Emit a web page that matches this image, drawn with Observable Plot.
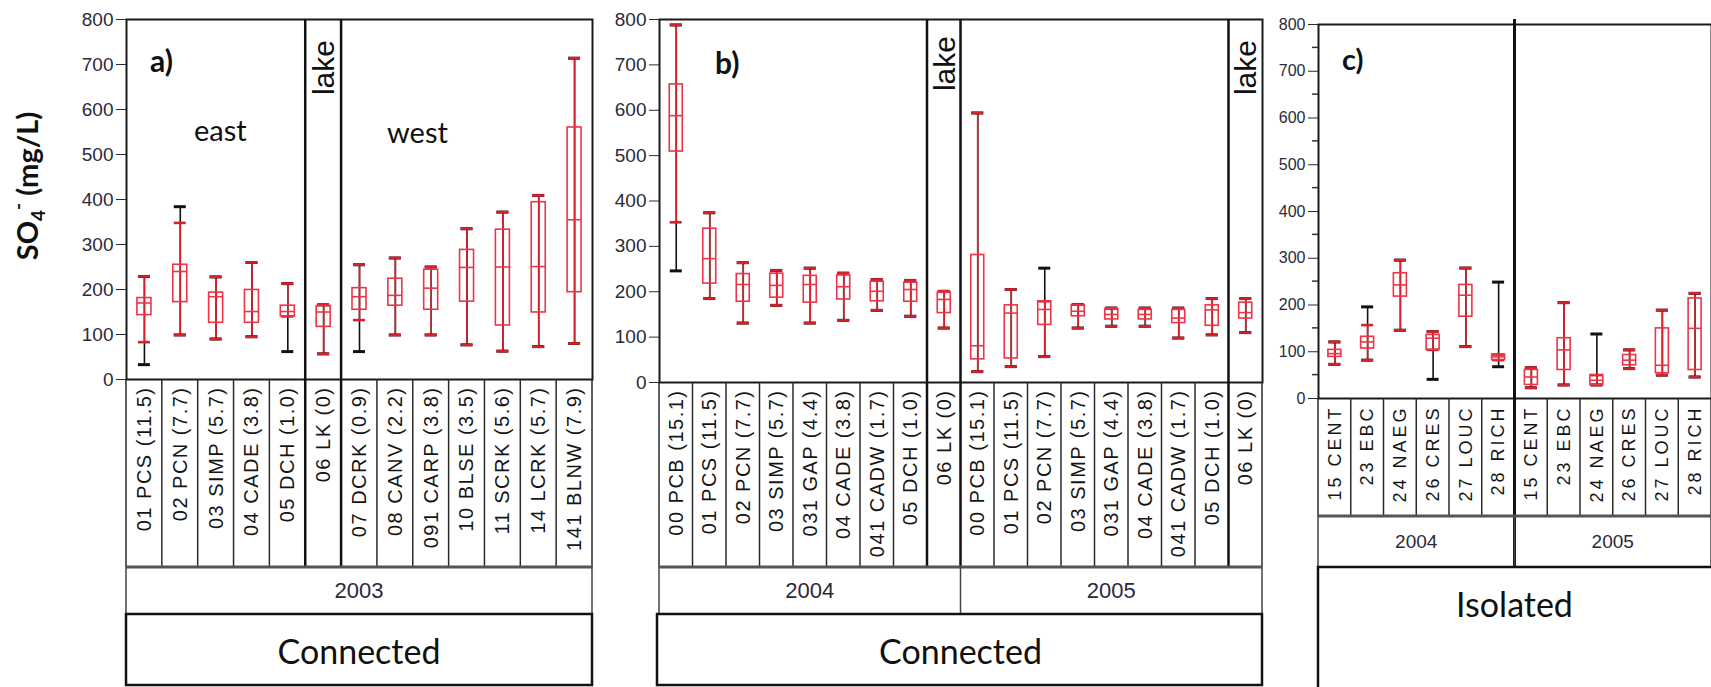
<!DOCTYPE html>
<html><head><meta charset="utf-8">
<script src="https://cdn.jsdelivr.net/npm/d3@7"></script>
<script src="https://cdn.jsdelivr.net/npm/@observablehq/plot@0.6"></script>
<style>
html,body{margin:0;padding:0;background:#fff;}
#root{position:relative;width:1711px;height:687px;overflow:hidden;background:#fff;}
.panel{position:absolute;top:0;}
</style></head><body><div id="root"></div>
<script>
// ---------- Panel a (Connected, 2003) ----------
const sitesA = ["01 PCS (11.5)","02 PCN (7.7)","03 SIMP (5.7)","04 CADE (3.8)","05 DCH (1.0)","06 LK (0)","07 DCRK (0.9)","08 CANV (2.2)","091 CARP (3.8)","10 BLSE (3.5)","11 SCRK (5.6)","14 LCRK (5.7)","141 BLNW (7.9)"];
const yearsA = ["2003","2003","2003","2003","2003","2003","2003","2003","2003","2003","2003","2003","2003"];
const blackLoA = [33, 99, 90, 95, 62, 57, 62, 99, 99, 77, 63, 73, 80];
const blackHiA = [229, 384, 228, 260, 213, 166, 255, 270, 250, 335, 372, 409, 714];
const redLoA   = [83, 99, 90, 95, 140, 57, 132, 99, 99, 77, 63, 73, 80];
const redHiA   = [229, 348, 228, 260, 213, 166, 255, 270, 250, 335, 372, 409, 714];
const q1A      = [143, 172, 126, 126, 140, 117, 155, 164, 155, 173, 120, 149, 194];
const medA     = [170, 240, 184, 151, 151, 150, 184, 187, 203, 249, 250, 251, 355];
const q3A      = [181, 255, 193, 199, 164, 163, 203, 224, 244, 288, 333, 394, 560];

// ---------- Panel b (Connected, 2004 & 2005) ----------
const sitesB = ["00 PCB (15.1)","01 PCS (11.5)","02 PCN (7.7)","03 SIMP (5.7)","031 GAP (4.4)","04 CADE (3.8)","041 CADW (1.7)","05 DCH (1.0)","06 LK (0)",
                "00 PCB (15.1)","01 PCS (11.5)","02 PCN (7.7)","03 SIMP (5.7)","031 GAP (4.4)","04 CADE (3.8)","041 CADW (1.7)","05 DCH (1.0)","06 LK (0)"];
const yearsB = ["2004","2004","2004","2004","2004","2004","2004","2004","2004","2005","2005","2005","2005","2005","2005","2005","2005","2005"];
const blackLoB = [246, 185, 131, 170, 131, 137, 159, 146, 120,  24,  35,  57, 120, 124, 124,  98, 105, 110];
const blackHiB = [788, 374, 264, 247, 252, 241, 227, 225, 201, 594, 205, 252, 172, 164, 164, 164, 185, 185];
const redLoB   = [353, 185, 131, 170, 131, 137, 159, 146, 120,  24,  35,  57, 120, 124, 124,  98, 105, 110];
const redHiB   = [788, 374, 264, 247, 252, 241, 227, 225, 201, 594, 205, 179, 172, 164, 164, 164, 185, 185];
const q1B      = [509, 218, 178, 187, 176, 183, 179, 178, 153,  51,  53, 127, 146, 139, 139, 131, 125, 141];
const medB     = [588, 273, 216, 214, 216, 211, 201, 205, 183,  81, 153, 161, 157, 150, 150, 142, 160, 154];
const q3B      = [657, 339, 239, 240, 235, 236, 222, 220, 198, 281, 170, 179, 170, 162, 160, 160, 170, 176];

// ---------- Panel c (Isolated, 2004 & 2005) ----------
const sitesC = ["15 CENT","23 EBC","24 NAEG","26 CRES","27 LOUC","28 RICH","15 CENT","23 EBC","24 NAEG","26 CRES","27 LOUC","28 RICH"];
const yearsC = ["2004","2004","2004","2004","2004","2004","2005","2005","2005","2005","2005","2005"];
const blackLoC = [73,  82, 146,  41, 111,  68, 23,  29,  29,  64,  50,  46];
const blackHiC = [121, 196, 296, 143, 279, 249, 66, 205, 138, 104, 189, 225];
const redLoC   = [73,  82, 146, 104, 111,  82, 23,  29,  29,  64,  50,  46];
const redHiC   = [121, 157, 296, 143, 279,  94, 66, 205,  50, 104, 189, 225];
const q1C      = [89, 107, 218, 104, 175,  82, 29,  61,  29,  71,  54,  61];
const medC     = [96, 121, 243, 129, 221,  89, 46, 104,  39,  82,  71, 150];
const q3C      = [104, 132, 268, 136, 243,  94, 61, 129,  50,  93, 150, 214];

const yMinorC = [50,150,250,350,450,550,650,750];

const RED_W = "#d8202c";
const RED_B = "#ee3446";
const root = document.getElementById("root");

function buildPanel(cfg) {
  const n = cfg.sites.length;
  const keys = cfg.sites.map((s, i) => cfg.years[i] + "|" + s);
  const rows = keys.map((k, i) => ({
    k, bLo: cfg.bLo[i], bHi: cfg.bHi[i], rLo: cfg.rLo[i], rHi: cfg.rHi[i],
    q1: cfg.q1[i], med: cfg.med[i], q3: cfg.q3[i]
  }));
  const bw = (cfg.width - cfg.marginLeft - cfg.marginRight) / n;
  const boxInset = (bw - cfg.boxW) / 2;
  const capInset = (bw - cfg.capW) / 2;
  const plot = Plot.plot({
    width: cfg.width, height: 687,
    marginLeft: cfg.marginLeft, marginRight: cfg.marginRight,
    marginTop: cfg.marginTop, marginBottom: cfg.marginBottom,
    style: {background: "transparent", fontFamily: "'Liberation Sans', Arial, sans-serif",
            fontSize: cfg.tickFont + "px", color: "#2a2a3a", overflow: "visible", maxWidth: "none"},
    x: {type: "band", domain: keys, padding: 0, round: false, tickSize: 0, tickPadding: 7,
        tickRotate: -90, tickFormat: k => k.split("|")[1], label: null},
    y: {domain: [0, 800], ticks: 8, tickSize: 10, tickPadding: 3, label: null, tickFormat: d => String(d)},
    marks: [
      Plot.frame({stroke: "#1a1a1a", strokeWidth: 2}),
      Plot.ruleX(rows, {x: "k", y1: "bLo", y2: "bHi", stroke: "#111", strokeWidth: 1.6}),
      Plot.ruleX(rows, {x: "k", y1: "rLo", y2: "rHi", stroke: RED_W, strokeWidth: 1.6}),
      Plot.tickY(rows, {x: "k", y: "bLo", stroke: "#111", strokeWidth: 3, insetLeft: capInset, insetRight: capInset}),
      Plot.tickY(rows, {x: "k", y: "bHi", stroke: "#111", strokeWidth: 3, insetLeft: capInset, insetRight: capInset}),
      Plot.tickY(rows, {x: "k", y: "rLo", stroke: RED_W, strokeWidth: 2.6, insetLeft: capInset, insetRight: capInset}),
      Plot.tickY(rows, {x: "k", y: "rHi", stroke: RED_W, strokeWidth: 2.6, insetLeft: capInset, insetRight: capInset}),
      Plot.barY(rows, {x: "k", y1: "q1", y2: "q3", fill: "none", stroke: RED_B, strokeWidth: 1.6, insetLeft: boxInset, insetRight: boxInset}),
      Plot.tickY(rows, {x: "k", y: "med", stroke: RED_B, strokeWidth: 1.6, insetLeft: boxInset, insetRight: boxInset})
    ]
  });
  plot.classList.add("panel");
  plot.style.left = cfg.left + "px";
  root.appendChild(plot);

  const svg = d3.select(plot.tagName.toLowerCase() === "svg" ? plot : plot.querySelector("svg"));
  svg.selectAll('[aria-label^="x-axis"] text')
    .attr("font-size", cfg.labelFont).attr("letter-spacing", cfg.labelSpacing + "px").attr("fill", "#151515")
    .style("font-size", cfg.labelFont + "px");
  svg.selectAll('[aria-label^="y-axis"] text')
    .attr("font-size", cfg.tickFont).style("font-size", cfg.tickFont + "px");

  return {
    svg,
    edge: i => cfg.marginLeft + i * bw,
    top: cfg.marginTop,
    zero: 687 - cfg.marginBottom,
    y: v => (687 - cfg.marginBottom) - v / 800 * (687 - cfg.marginBottom - cfg.marginTop),
    n
  };
}

function line(svg, x1, y1, x2, y2, stroke, w) {
  svg.append("line").attr("x1", x1).attr("y1", y1).attr("x2", x2).attr("y2", y2)
    .attr("stroke", stroke).attr("stroke-width", w);
}
function text(svg, x, y, s, o) {
  const t = svg.append("text").attr("x", x).attr("y", y).text(s)
    .attr("font-family", o.family || "Lato, 'Open Sans', sans-serif")
    .attr("font-size", o.size).attr("fill", o.fill || "#111")
    .attr("text-anchor", o.anchor || "start");
  if (o.weight) t.attr("font-weight", o.weight);
  if (o.rotate) t.attr("transform", `rotate(${o.rotate},${x},${y})`);
  return t;
}
function labelTable(c, rowBottom, yearBottom, boldEdges, yearEdges, yearLabels, yearFont) {
  const {svg, edge, n, zero} = c;
  for (let i = 0; i <= n; i++) {
    if (boldEdges.includes(i)) continue;
    line(svg, edge(i), zero, edge(i), rowBottom, "#2a2a2a", 1.5);
  }
  line(svg, edge(0), rowBottom, edge(n), rowBottom, "#555", 3);
  for (const i of yearEdges) line(svg, edge(i), rowBottom, edge(i), yearBottom, "#444", 1.5);
  for (let j = 0; j < yearLabels.length; j++) {
    const xm = (edge(yearEdges[j]) + edge(yearEdges[j + 1])) / 2;
    text(svg, xm, (rowBottom + yearBottom) / 2 + yearFont * 0.36, yearLabels[j],
      {size: yearFont, anchor: "middle", family: "'Liberation Sans', Arial, sans-serif", fill: "#2a2a3a"});
  }
}

// ----- Panel a -----
const A = buildPanel({left: 0, width: 600, marginLeft: 126, marginRight: 8, marginTop: 19, marginBottom: 308,
  sites: sitesA, years: yearsA, bLo: blackLoA, bHi: blackHiA, rLo: redLoA, rHi: redHiA, q1: q1A, med: medA, q3: q3A,
  tickFont: 19, labelFont: 20, labelSpacing: 1.5, boxW: 14, capW: 12});
{
  const {svg, edge, top} = A;
  for (const i of [5, 6]) line(svg, edge(i), top, edge(i), 567, "#111", 2.5);
  labelTable(A, 567, 614, [5, 6], [0, 13], ["2003"], 22);
  svg.append("rect").attr("x", edge(0)).attr("y", 614).attr("width", edge(13) - edge(0)).attr("height", 71)
    .attr("fill", "none").attr("stroke", "#111").attr("stroke-width", 2.5);
  text(svg, (edge(0) + edge(13)) / 2, 664, "Connected", {size: 34, anchor: "middle"});
  text(svg, 150, 72, "a)", {size: 30, weight: 700});
  text(svg, 194, 141, "east", {size: 29});
  text(svg, 387, 143, "west", {size: 29});
  text(svg, (edge(5) + edge(6)) / 2 + 11, 40, "lake", {size: 30, anchor: "end", rotate: -90, family: "'Liberation Sans', Arial, sans-serif"});
  const t = svg.append("text").attr("transform", "translate(38,186) rotate(-90)")
    .attr("text-anchor", "middle").attr("font-family", "Lato, sans-serif").attr("font-weight", 700)
    .attr("font-size", 29).attr("fill", "#111");
  t.append("tspan").text("SO");
  t.append("tspan").attr("font-size", 19).attr("dy", 7).text("4");
  t.append("tspan").attr("font-size", 19).attr("dy", -20).text("-");
  t.append("tspan").attr("dy", 13).text(" (mg/L)");
}

// ----- Panel b -----
const B = buildPanel({left: 600, width: 665, marginLeft: 59, marginRight: 3, marginTop: 19, marginBottom: 305,
  sites: sitesB, years: yearsB, bLo: blackLoB, bHi: blackHiB, rLo: redLoB, rHi: redHiB, q1: q1B, med: medB, q3: q3B,
  tickFont: 19, labelFont: 20, labelSpacing: 1.5, boxW: 13, capW: 12});
{
  const {svg, edge, top} = B;
  for (const i of [8, 9, 17]) line(svg, edge(i), top, edge(i), 567, "#111", 2.5);
  labelTable(B, 567, 614, [8, 9, 17], [0, 9, 18], ["2004", "2005"], 22);
  svg.append("rect").attr("x", edge(0) - 2).attr("y", 614).attr("width", edge(18) - edge(0) + 2).attr("height", 71)
    .attr("fill", "none").attr("stroke", "#111").attr("stroke-width", 2.5);
  text(svg, (edge(0) + edge(18)) / 2, 664, "Connected", {size: 34, anchor: "middle"});
  text(svg, 115, 74, "b)", {size: 30, weight: 700});
  text(svg, (edge(8) + edge(9)) / 2 + 11, 36, "lake", {size: 30, anchor: "end", rotate: -90, family: "'Liberation Sans', Arial, sans-serif"});
  text(svg, (edge(17) + edge(18)) / 2 + 11, 40, "lake", {size: 30, anchor: "end", rotate: -90, family: "'Liberation Sans', Arial, sans-serif"});
}

// ----- Panel c -----
const C = buildPanel({left: 1265, width: 446, marginLeft: 53, marginRight: 0, marginTop: 24, marginBottom: 289,
  sites: sitesC, years: yearsC, bLo: blackLoC, bHi: blackHiC, rLo: redLoC, rHi: redHiC, q1: q1C, med: medC, q3: q3C,
  tickFont: 16, labelFont: 18, labelSpacing: 3, boxW: 13, capW: 12});
{
  const {svg, edge, top, y} = C;
  for (const v of yMinorC) line(svg, edge(0) - 6, y(v), edge(0), y(v), "#333", 1.5);
  line(svg, edge(6), top - 5, edge(6), 567, "#111", 3);
  labelTable(C, 516, 567, [6], [0, 6, 12], ["2004", "2005"], 19);
  svg.append("rect").attr("x", edge(0)).attr("y", 567).attr("width", edge(12) - edge(0) + 5).attr("height", 140)
    .attr("fill", "none").attr("stroke", "#111").attr("stroke-width", 2.5);
  text(svg, (edge(0) + edge(12)) / 2, 617, "Isolated", {size: 34, anchor: "middle"});
  text(svg, 77, 70, "c)", {size: 29, weight: 700});
}
</script></body></html>
